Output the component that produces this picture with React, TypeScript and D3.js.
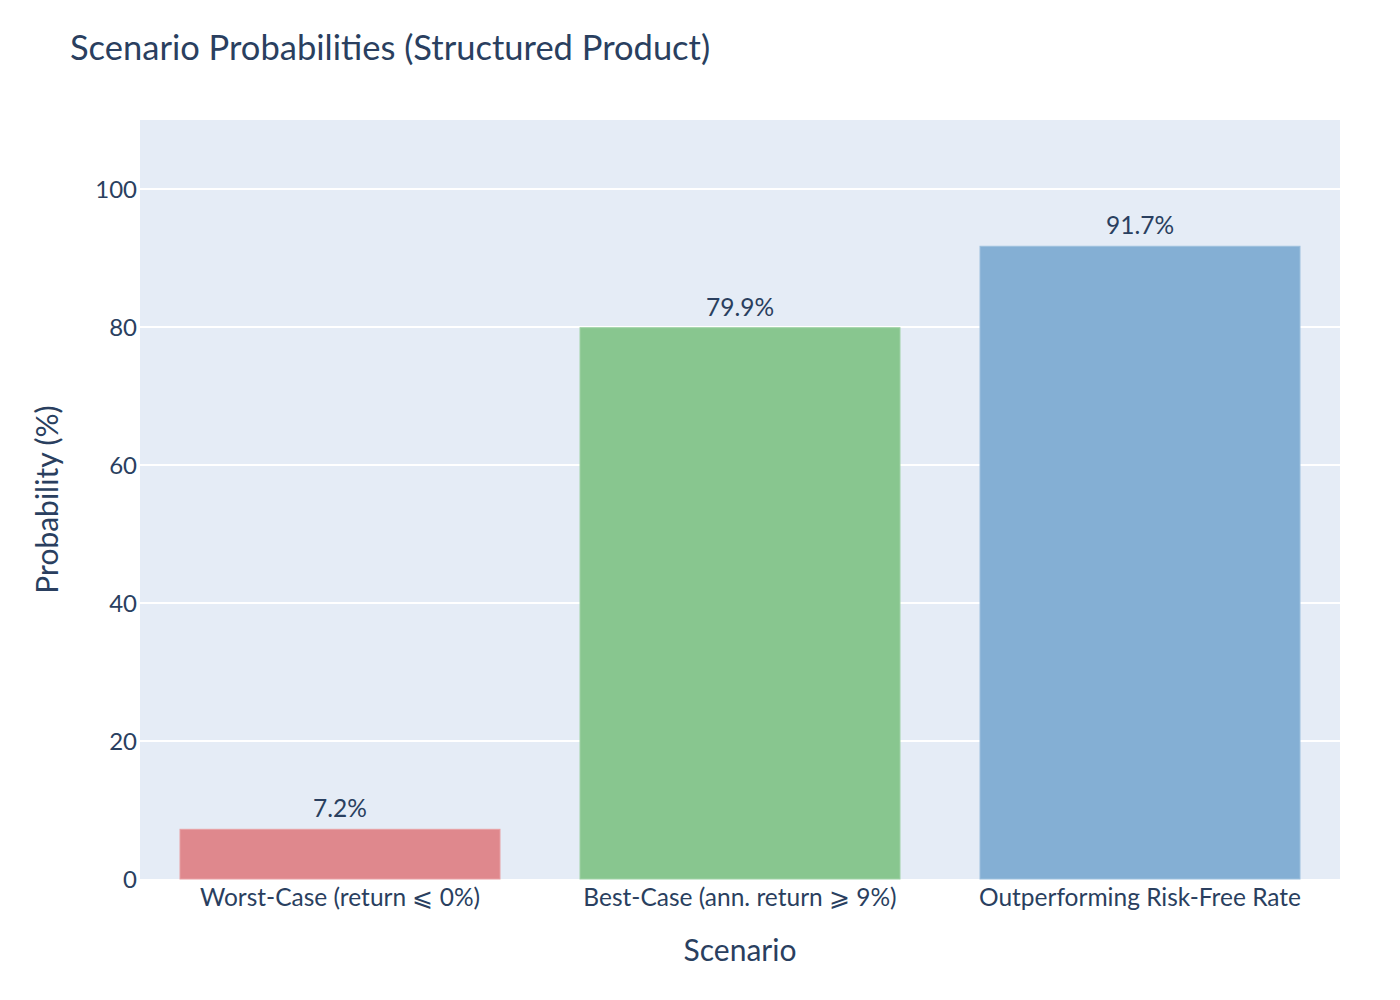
import React from 'react';
import * as d3 from 'd3';

// scenario data
const scenarios = [
  'Worst-Case (return \u2A7D 0%)',
  'Best-Case (ann. return \u2A7E 9%)',
  'Outperforming Risk-Free Rate',
];
const probabilities = [7.2, 79.9, 91.7];
const barColors = ['#df888d', '#88c68f', '#84afd4'];
const barEdges = ['#e8a0a4', '#a0d2a6', '#9dc0de'];
const yTicks = [0, 20, 40, 60, 80, 100];

const FONT = '"Source Sans Pro", Lato, "Noto Sans", sans-serif';
const INK = '#2a3f5f';

const W = 1400;
const H = 1000;
const margin = { top: 120, right: 60, bottom: 121, left: 140 };

export default function App() {
  const innerW = W - margin.left - margin.right;
  const innerH = H - margin.top - margin.bottom;

  const x = d3.scaleBand<string>()
    .domain(scenarios)
    .range([0, innerW])
    .paddingInner(0.2)
    .paddingOuter(0.1);

  const y = d3.scaleLinear()
    .domain([0, 110])
    .range([innerH, 0]);

  return (
    <svg width={W} height={H} style={{ display: 'block', margin: -8, fontFamily: FONT }}>
      <rect width={W} height={H} fill="#fff" />
      <text x={70} y={60} fontSize={34.5} fill={INK}>Scenario Probabilities (Structured Product)</text>

      <g transform={`translate(${margin.left},${margin.top})`}>
        <rect width={innerW} height={innerH} fill="#e5ecf6" />
        {yTicks.map(t => (
          <g key={t} transform={`translate(0,${y(t)})`}>
            {t > 0 && <line x1={0} x2={innerW} stroke="#fff" strokeWidth={2} />}
            <text x={-3} dy="0.36em" textAnchor="end" fontSize={24} fill={INK}>{t}</text>
          </g>
        ))}

        {scenarios.map((s, i) => {
          const bx = x(s) as number;
          const bw = x.bandwidth();
          const v = probabilities[i];
          return (
            <g key={s}>
              <rect
                x={bx}
                y={y(v)}
                width={bw}
                height={innerH - y(v)}
                fill={barColors[i]}
                stroke={barEdges[i]}
                strokeWidth={1}
              />
              <text
                x={bx + bw / 2}
                y={y(v) - 12}
                textAnchor="middle"
                fontSize={24.5}
                fill={INK}
              >{`${v.toFixed(1)}%`}</text>
              <text
                x={bx + bw / 2}
                y={innerH + 27}
                textAnchor="middle"
                fontSize={24.5}
                fill={INK}
              >{s}</text>
            </g>
          );
        })}

        <text x={innerW / 2} y={innerH + 82} textAnchor="middle" fontSize={30} fill={INK}>Scenario</text>
        <text
          transform={`translate(-82,${innerH / 2}) rotate(-90)`}
          textAnchor="middle"
          fontSize={30}
          fill={INK}
        >Probability (%)</text>
      </g>
    </svg>
  );
}
